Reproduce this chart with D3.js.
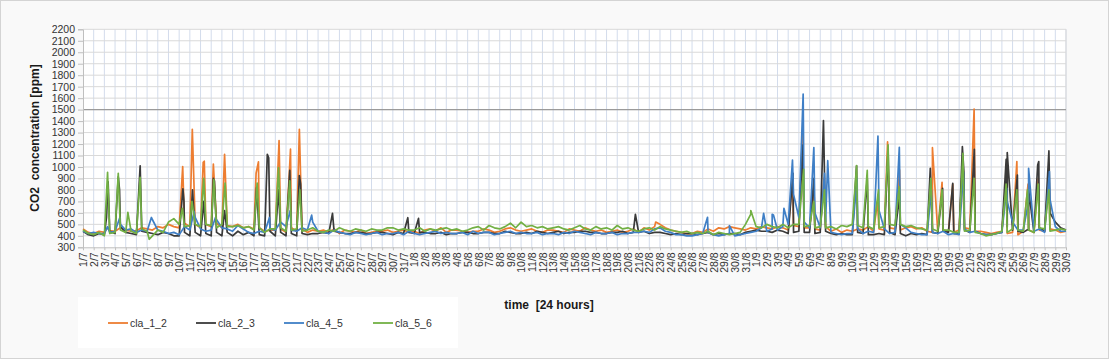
<!DOCTYPE html>
<html><head><meta charset="utf-8">
<script src="https://cdn.jsdelivr.net/npm/d3@7"></script>
<style>
html,body{margin:0;padding:0;background:#f9f9f9;}
svg{display:block;font-family:"Liberation Sans",Arial,sans-serif;}
</style></head><body>
<svg id="c" width="1109" height="359"></svg>
<script>
// X category labels (one per day; note the repeated 3/8 in the source)
const xLabels = ["1/7","2/7","3/7","4/7","5/7","6/7","7/7","8/7","9/7","10/7","11/7","12/7","13/7","14/7","15/7","16/7","17/7","18/7","19/7","20/7","21/7","22/7","23/7","24/7","25/7","26/7","27/7","28/7","29/7","30/7","31/7",
"1/8","2/8","3/8","3/8","4/8","5/8","6/8","7/8","8/8","9/8","10/8","11/8","12/8","13/8","14/8","15/8","16/8","17/8","18/8","19/8","20/8","21/8","22/8","23/8","24/8","25/8","26/8","27/8","28/8","29/8","30/8","31/8",
"1/9","2/9","3/9","4/9","5/9","6/9","7/9","8/9","9/9","10/9","11/9","12/9","13/9","14/9","15/9","16/9","17/9","18/9","19/9","20/9","21/9","22/9","23/9","24/9","25/9","26/9","27/9","28/9","29/9","30/9"];
const yTicks = [300,400,500,600,700,800,900,1000,1100,1200,1300,1400,1500,1600,1700,1800,1900,2000,2100,2200];
const limitValue = 1500;
const seriesNames = ["cla_1_2","cla_2_3","cla_4_5","cla_5_6"];

// Background levels, two readings per day (00h, 12h of each category slot)
const base_1_2 = [460,430,420,440,430,445,440,470,450,440,445,470,460,450,480,470,500,480,470,510,480,500,470,500,480,510,470,490,480,500,470,480,460,470,440,450,450,460,430,470,440,460,430,450,440,450,430,460,420,450,440,430,450,420,430,440,440,450,430,440,450,430,440,420,450,460,440,470,430,450,450,440,430,440,440,460,450,430,440,460,470,450,440,450,460,440,430,450,450,440,430,460,450,440,470,450,440,450,430,440,450,430,440,460,430,470,450,480,500,470,450,440,430,420,420,440,430,460,440,470,460,480,470,460,450,470,460,480,470,460,480,470,450,490,480,470,470,460,450,480,440,460,430,450,440,460,450,480,440,460,450,470,460,450,470,480,460,470,440,430,430,450,440,430,450,470,460,440,440,430,420,430,440,420,430,410,440,450,430,450,440,460,450,430,440];
const base_2_3 = [440,410,400,420,410,440,420,480,430,420,410,440,430,420,410,430,420,400,400,430,400,430,400,420,400,430,400,430,400,440,410,430,400,410,400,440,400,430,400,420,400,420,410,420,420,430,420,440,430,420,420,430,430,420,420,430,430,420,410,430,420,430,420,430,430,420,420,430,410,420,420,430,430,420,420,430,430,420,420,440,430,420,420,430,420,440,430,420,430,440,420,430,430,440,440,430,430,420,420,430,430,440,420,430,430,440,420,430,430,420,410,420,410,420,420,410,420,430,410,420,410,420,420,410,430,440,450,440,440,430,450,440,420,430,440,430,430,420,430,440,420,410,420,410,410,430,420,410,410,420,410,430,410,420,400,420,410,420,410,430,420,440,430,420,420,450,430,440,420,410,410,420,430,480,450,440,430,460,430,470,440,600,520,470,450];
const base_4_5 = [440,420,430,420,420,430,440,500,450,460,430,450,440,540,450,440,420,430,410,480,450,560,460,440,450,540,470,460,440,490,460,430,420,440,430,460,450,520,480,450,440,470,450,520,440,430,420,450,430,420,410,430,420,410,420,430,410,420,420,430,410,440,420,410,420,430,440,420,430,420,420,430,410,440,420,430,430,410,420,430,440,420,430,420,420,430,410,420,420,410,430,420,440,430,420,410,430,420,420,430,410,420,420,430,430,440,430,460,470,440,430,410,410,400,400,410,420,430,410,400,410,420,400,410,420,430,440,470,440,460,450,480,500,760,560,520,470,600,470,520,430,420,410,420,420,460,420,440,430,620,460,420,430,500,470,430,420,410,410,430,420,440,410,420,410,460,430,440,420,410,410,420,430,700,520,450,450,700,440,460,430,720,480,440,440];
const base_5_6 = [450,420,410,430,400,420,430,450,430,440,420,460,440,400,450,430,520,550,500,480,490,500,480,500,490,470,500,480,480,490,470,480,450,470,430,460,460,470,440,450,460,440,450,470,440,430,450,440,470,450,440,460,450,440,460,450,450,470,470,450,460,450,450,470,440,460,450,460,470,450,460,440,450,470,480,450,490,470,460,480,510,470,520,480,490,470,480,460,470,480,460,450,470,490,460,450,480,460,470,450,490,460,470,450,440,460,470,450,480,460,450,440,430,440,420,430,420,440,410,430,420,410,420,430,500,590,480,470,500,480,470,500,470,500,500,480,490,470,480,470,480,460,490,480,500,490,470,480,460,470,480,500,490,500,480,490,470,460,450,460,440,450,450,430,430,440,450,430,420,400,410,420,440,430,460,450,440,450,430,470,460,440,450,460,450];

// Short peaks: [day position, ppm]
const peaks_1_2 = [[2.3,470],[9.33,1003],[10.23,1328],[11.25,1040],[11.35,1050],[12.2,1025],[13.25,1110],[16.2,945],[16.42,1045],[18.35,1230],[19.3,930],[19.42,1155],[20.25,1328],[20.37,900],[53.6,520],[66.4,900],[67.35,1308],[68.4,800],[69.35,900],[74.35,700],[75.3,1218],[76.42,975],[79.5,1168],[80.4,866],[81.4,850],[82.3,1000],[83.4,1505],[86.4,900],[87.4,1047],[88.45,850],[89.4,900],[90.4,950]];
const peaks_2_3 = [[2.2,560],[2.35,870],[3.3,915],[3.42,800],[5.35,1010],[9.35,810],[9.45,700],[10.25,800],[11.3,700],[12.2,900],[12.3,880],[13.25,620],[16.25,820],[17.25,1110],[17.38,1080],[18.3,800],[19.35,970],[20.25,925],[20.37,850],[23.35,596],[30.4,558],[31.4,552],[51.7,587],[66.45,945],[67.35,1190],[68.4,900],[69.3,1404],[72.4,1010],[73.4,900],[75.35,1148],[76.4,750],[79.3,988],[80.45,814],[81.4,858],[82.3,1177],[82.45,950],[83.42,1154],[86.4,1067],[86.5,1125],[87.45,930],[88.5,800],[89.35,1017],[89.45,1047],[90.4,1140]];
const peaks_4_5 = [[2.3,480],[3.45,560],[6.4,560],[10.4,611],[12.4,560],[17.45,560],[19.4,620],[21.4,580],[58.45,561],[60.5,489],[63.7,596],[64.5,588],[64.62,582],[65.6,640],[66.4,1061],[67.4,1636],[68.4,1169],[69.4,945],[69.7,1055],[72.45,900],[74.4,1270],[76.4,1171],[79.4,800],[82.4,953],[86.45,814],[88.5,988],[90.45,960]];
const peaks_5_6 = [[2.3,953],[3.3,945],[4.2,605],[5.35,910],[6.2,370],[9.3,640],[10.2,700],[11.3,900],[12.25,890],[13.3,860],[16.3,860],[18.3,995],[19.35,880],[20.3,800],[62.5,620],[67.45,980],[68.4,700],[69.4,800],[72.4,1012],[73.4,970],[74.45,800],[75.35,1192],[76.4,830],[79.35,900],[80.4,800],[82.35,1119],[83.4,900],[86.4,850],[87.4,800],[88.4,800],[89.4,850],[90.4,800]];

const bases = [base_1_2, base_2_3, base_4_5, base_5_6];
const peaks = [peaks_1_2, peaks_2_3, peaks_4_5, peaks_5_6];
const colors = ["#ED7D31","#3A3A3A","#3F7FC6","#72B044"];

const svg = d3.select("#c");
const W = 1109, H = 359;
svg.append("rect").attr("x",0.5).attr("y",0.5).attr("width",W-1).attr("height",H-1)
  .attr("fill","#f9f9f9").attr("stroke","#d4d4d4");

const L = 83, R = 1066, T = 29.3, B = 247.3;
const x = d3.scaleLinear().domain([0, xLabels.length-1]).range([L, R]);
const y = d3.scaleLinear().domain([300, 2200]).range([B, T]);

svg.append("rect").attr("x",L).attr("y",T).attr("width",R-L).attr("height",B-T).attr("fill","#ffffff");

// gridlines
const g = svg.append("g");
g.selectAll("line.v").data(d3.range(1, xLabels.length)).join("line")
  .attr("x1",d=>x(d)).attr("x2",d=>x(d)).attr("y1",T).attr("y2",B)
  .attr("stroke","#d3dcec").attr("stroke-width",1);
g.selectAll("line.h").data(yTicks.slice(1)).join("line")
  .attr("x1",L).attr("x2",R).attr("y1",d=>y(d)).attr("y2",d=>y(d))
  .attr("stroke","#d9d9d9").attr("stroke-width",1);
svg.append("line").attr("x1",R).attr("x2",R).attr("y1",T).attr("y2",B).attr("stroke","#d9d9d9");

// limit line
svg.append("line").attr("x1",L).attr("x2",R).attr("y1",y(limitValue)).attr("y2",y(limitValue))
  .attr("stroke","#9a9a9a").attr("stroke-width",1.2);

// axes
const yAxis = svg.append("g").attr("transform",`translate(${L},0)`)
  .call(d3.axisLeft(y).tickValues(yTicks).tickFormat(d3.format("d")).tickSize(5).tickPadding(3));
yAxis.select(".domain").attr("stroke","#bfbfbf");
yAxis.selectAll(".tick line").attr("stroke","#bfbfbf");
yAxis.selectAll("text").attr("font-size","10.5px").attr("fill","#333");

const xAxis = svg.append("g").attr("transform",`translate(0,${B})`)
  .call(d3.axisBottom(x).tickValues(d3.range(xLabels.length)).tickFormat(i=>xLabels[i]).tickSize(3).tickSizeOuter(0));
xAxis.select(".domain").attr("stroke","#bfbfbf");
xAxis.selectAll(".tick line").attr("stroke","#bfbfbf");
xAxis.selectAll("text").attr("font-size","10.5px").attr("fill","#333")
  .attr("transform","rotate(-90)").attr("text-anchor","end")
  .attr("x",-5).attr("y",0).attr("dy","0.35em");

// series
const line = d3.line().x(p=>x(p[0])).y(p=>y(p[1]));
bases.forEach((b,si)=>{
  const pts = b.map((v,i)=>[i*0.5, v]).concat(peaks[si]).sort((a,c)=>a[0]-c[0]);
  svg.append("path").datum(pts).attr("d",line).attr("fill","none")
    .attr("stroke",colors[si]).attr("stroke-width",1.7).attr("stroke-linejoin","round");
});

// titles
svg.append("text").attr("transform","translate(39,138) rotate(-90)").attr("text-anchor","middle")
  .attr("font-size","12px").attr("font-weight","bold").attr("fill","#1a1a1a")
  .attr("xml:space","preserve").text("CO2  concentration [ppm]");
svg.append("text").attr("x",549).attr("y",309).attr("text-anchor","middle")
  .attr("font-size","12px").attr("font-weight","bold").attr("fill","#1a1a1a")
  .attr("xml:space","preserve").text("time  [24 hours]");

// legend
svg.append("rect").attr("x",78).attr("y",297).attr("width",380).attr("height",51).attr("fill","#ffffff");
const lx = [108,196,284,373];
seriesNames.forEach((n,i)=>{
  svg.append("line").attr("x1",lx[i]).attr("x2",lx[i]+20).attr("y1",323).attr("y2",323)
    .attr("stroke",colors[i]).attr("stroke-width",1.8);
  svg.append("text").attr("x",lx[i]+22).attr("y",323).attr("dy","0.35em")
    .attr("font-size","10.5px").attr("fill","#333").text(n);
});
</script></body></html>
